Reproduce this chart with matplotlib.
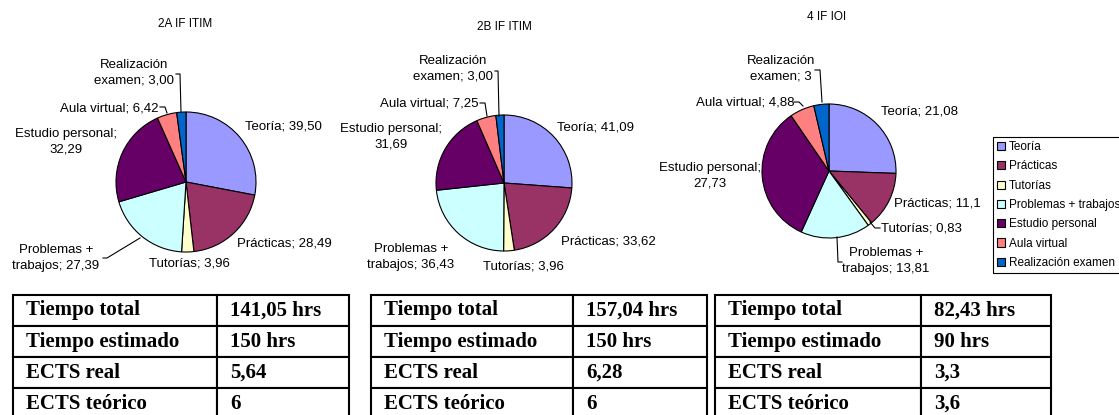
import matplotlib.pyplot as plt

plt.rcParams['font.family'] = ['Liberation Sans', 'DejaVu Sans']

categories = ["Teoría", "Prácticas", "Tutorías", "Problemas + trabajos",
              "Estudio personal", "Aula virtual", "Realización examen"]
colors = ["#9999FF", "#993366", "#FFFFCC", "#CCFFFF", "#660066", "#FF8080", "#0066CC"]

titles = ["2A IF ITIM", "2B IF ITIM", "4 IF IOI"]
hours_2a = [39.50, 28.49, 3.96, 27.39, 32.29, 6.42, 3.00]
hours_2b = [41.09, 33.62, 3.96, 36.43, 31.69, 7.25, 3.00]
hours_4 = [21.08, 11.1, 0.83, 13.81, 27.73, 4.88, 3]

table_rows = ["Tiempo total", "Tiempo estimado", "ECTS real", "ECTS teórico"]
table_2a = ["141,05 hrs", "150 hrs", "5,64", "6"]
table_2b = ["157,04 hrs", "150 hrs", "6,28", "6"]
table_4 = ["82,43 hrs", "90 hrs", "3,3", "3,6"]

# label text per slice, value goes in the braces
label_fmt = ["Teoría; {}", "Prácticas; {}", "Tutorías; {}", "Problemas +\ntrabajos; {}",
             "Estudio personal;\n{}", "Aula virtual; {}", "Realización\nexamen; {}"]

W, H = 1119, 415

# layout in pixels (top-left origin)
centers = [(186, 182), (504, 183), (829, 171)]
radii = [70, 68, 67]
title_pos = [(185, 24), (504, 27), (827, 17)]
label_pos = [
    [(59, -56, 'left'), (51, 61, 'left'), (3, 81, 'center'), (-130, 76, 'center'),
     (-120, -40, 'center'), (-27, -74, 'right'), (-52, -109, 'center')],
    [(53, -56, 'left'), (57, 58, 'left'), (19, 83, 'center'), (-93, 74, 'center'),
     (-113, -46, 'center'), (-26, -80, 'right'), (-51, -114, 'center')],
    [(52, -60, 'left'), (65, 32, 'left'), (52, 57, 'left'), (57, 90, 'center'),
     (-119, 5, 'center'), (-35, -69, 'right'), (-48, -102, 'center')],
]
leaders = [
    [[(103, 258), (107, 258), (140, 238)],
     [(160, 107), (165, 107), (167, 113)],
     [(176, 74), (180, 74), (181, 112)]],
    [[(480, 103), (485, 103), (487, 116)],
     [(495, 71), (498, 71), (499, 116)]],
    [[(880, 228), (875, 228), (870, 222)],
     [(842, 262), (838, 262), (837, 237)],
     [(794, 102), (799, 102), (803, 106)],
     [(815, 70), (820, 70), (822, 102)]],
]
tables = [(13, 217, 349), (371, 573, 707), (715, 921, 1051)]
table_top, table_bottom = 295, 419


def fmt_2dec(v):
    return f"{v:.2f}".replace('.', ',')


def fmt_gen(v):
    return f"{v:g}".replace('.', ',')


fig = plt.figure(figsize=(W / 100, H / 100), dpi=100)
ax = fig.add_axes([0, 0, 1, 1])

all_hours = [hours_2a, hours_2b, hours_4]
formatters = [fmt_2dec, fmt_2dec, fmt_gen]
wedges = None
for i, hours in enumerate(all_hours):
    cx, cy = centers[i]
    # y axis is flipped below, so counterclock=True draws clockwise from the top
    wedges, _ = ax.pie(hours, colors=colors, center=(cx, cy), radius=radii[i],
                       startangle=-90, counterclock=True, frame=True,
                       wedgeprops=dict(edgecolor='black', linewidth=0.8))
    ax.text(*title_pos[i], titles[i], ha='center', va='center', fontsize=8.5)
    for v, f, (dx, dy, ha) in zip(hours, label_fmt, label_pos[i]):
        ax.text(cx + dx, cy + dy, f.format(formatters[i](v)), ha=ha, va='center',
                fontsize=9.5, linespacing=1.35, multialignment='center')
    for pts in leaders[i]:
        xs, ys = zip(*pts)
        ax.plot(xs, ys, color='black', lw=0.8)

for (x0, xm, x1), vals in zip(tables, [table_2a, table_2b, table_4]):
    widths = [xm - x0, x1 - xm]
    tab = ax.table(cellText=list(zip(table_rows, vals)),
                   colWidths=[w / (x1 - x0) for w in widths], cellLoc='left',
                   bbox=[x0 / W, (H - table_bottom) / H, (x1 - x0) / W,
                         (table_bottom - table_top) / H])
    tab.auto_set_font_size(False)
    for (r, c), cell in tab.get_celld().items():
        cell.set_linewidth(1.5)
        cell.PAD = 13 / widths[c]
        t = cell.get_text()
        t.set_fontsize(15)
        t.set_fontfamily('Liberation Serif')
        t.set_fontweight('bold')

leg = ax.legend(wedges, categories, loc='upper left',
                bbox_to_anchor=(993 / W, 1 - 137 / H), borderaxespad=0,
                fontsize=8.5, handlelength=0.7, handleheight=0.7,
                handletextpad=0.3, labelspacing=0.62, borderpad=0.35,
                fancybox=False, framealpha=1)
leg.get_frame().set_edgecolor('black')
leg.get_frame().set_linewidth(0.8)

ax.set_xlim(0, W)
ax.set_ylim(H, 0)
ax.set_aspect('auto')
ax.axis('off')

fig.savefig('out.png', dpi=100)
